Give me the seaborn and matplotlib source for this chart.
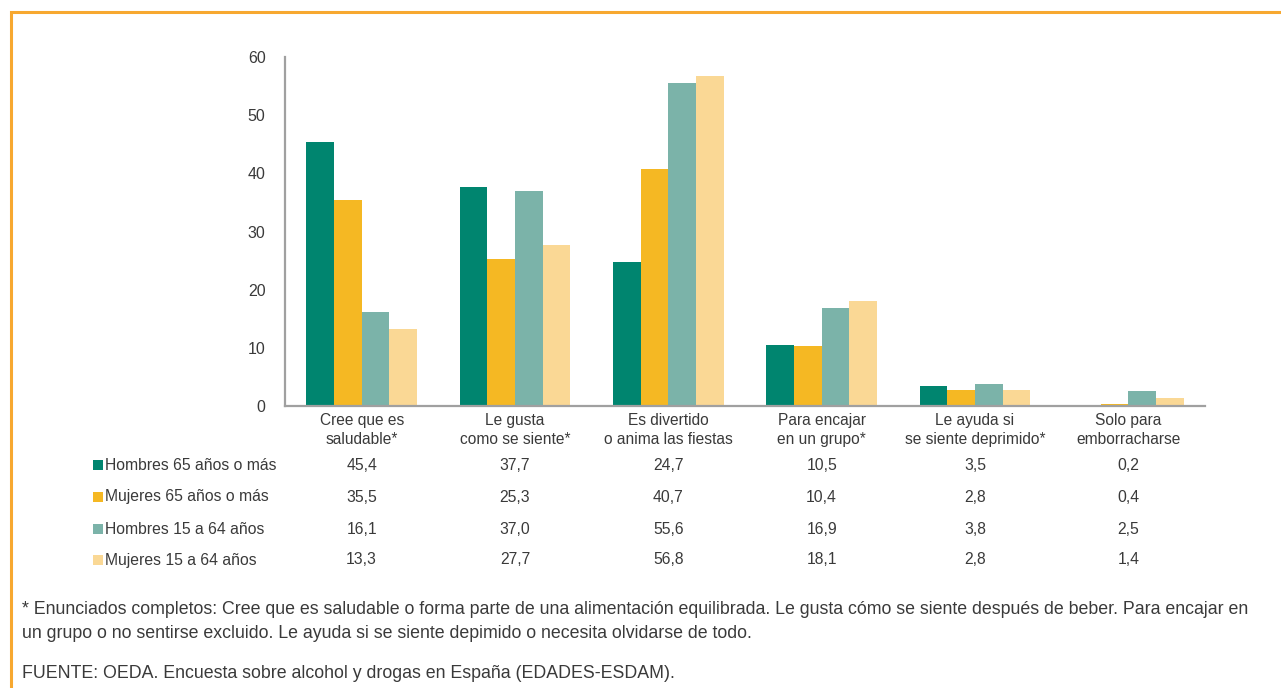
import matplotlib
matplotlib.use("Agg")
import matplotlib.pyplot as plt
from matplotlib.patches import Rectangle
import pandas as pd
import seaborn as sns

# Motivos para consumir alcohol, por sexo y edad (%)
categorias = [
    "Cree que es\nsaludable*",
    "Le gusta\ncomo se siente*",
    "Es divertido\no anima las fiestas",
    "Para encajar\nen un grupo*",
    "Le ayuda si\nse siente deprimido*",
    "Solo para\nemborracharse",
]
series = [
    "Hombres 65 años o más",
    "Mujeres 65 años o más",
    "Hombres 15 a 64 años",
    "Mujeres 15 a 64 años",
]
hombres_65 = [45.4, 37.7, 24.7, 10.5, 3.5, 0.2]
mujeres_65 = [35.5, 25.3, 40.7, 10.4, 2.8, 0.4]
hombres_15_64 = [16.1, 37.0, 55.6, 16.9, 3.8, 2.5]
mujeres_15_64 = [13.3, 27.7, 56.8, 18.1, 2.8, 1.4]
y_ticks = [0, 10, 20, 30, 40, 50, 60]
colores = ["#00856F", "#F5B823", "#7BB3A9", "#FAD895"]

nota_1 = ("* Enunciados completos: Cree que es saludable o forma parte de una alimentación equilibrada. "
          "Le gusta cómo se siente después de beber. Para encajar en")
nota_2 = "un grupo o no sentirse excluido. Le ayuda si se siente depimido o necesita olvidarse de todo."
fuente = "FUENTE: OEDA. Encuesta sobre alcohol y drogas en España (EDADES-ESDAM)."

valores = [hombres_65, mujeres_65, hombres_15_64, mujeres_15_64]
df = pd.DataFrame(
    [(c, s, v) for s, vals in zip(series, valores) for c, v in zip(categorias, vals)],
    columns=["categoria", "serie", "valor"],
)

sns.set_theme(style="white")
plt.rcParams["font.family"] = ["Liberation Sans", "DejaVu Sans"]
txt = "#3a3a3a"

W, H = 1281, 688
fig = plt.figure(figsize=(W / 100, H / 100), dpi=100)
ax = fig.add_axes([285 / W, 1 - 406 / H, 920 / W, 349 / H])

sns.barplot(data=df, x="categoria", y="valor", hue="serie", order=categorias,
            hue_order=series, palette=colores, width=0.72, saturation=1,
            linewidth=0, ax=ax, legend=False)

ax.set_xlim(-0.5, len(categorias) - 0.5)
ax.set_ylim(0, 60)
ax.set_yticks(y_ticks)
ax.set_yticklabels([str(t) for t in y_ticks], fontsize=11.5, color=txt)
ax.set_xticks(range(len(categorias)))
ax.set_xticklabels(categorias, fontsize=11.2, color=txt, linespacing=1.35)
ax.tick_params(axis="both", length=0)
ax.tick_params(axis="y", pad=14)
ax.tick_params(axis="x", pad=5)
ax.set_xlabel("")
ax.set_ylabel("")
for side in ["top", "right"]:
    ax.spines[side].set_visible(False)
for side in ["left", "bottom"]:
    ax.spines[side].set_color("#a0a0a0")
    ax.spines[side].set_linewidth(1.6)

# Tabla de datos bajo el gráfico
filas_y = [465, 497, 529, 560]
for s, vals, col, yp in zip(series, valores, colores, filas_y):
    yf = 1 - yp / H
    fig.patches.append(Rectangle((93 / W, yf - 5 / H), 10 / W, 10 / H,
                                 transform=fig.transFigure, color=col, lw=0))
    fig.text(105 / W, yf, s, fontsize=11.3, color=txt, va="center", ha="left")
    for i, v in enumerate(vals):
        xd = fig.transFigure.inverted().transform(ax.transData.transform((i, 0)))[0]
        fig.text(xd, yf, f"{v:.1f}".replace(".", ","), fontsize=11.3, color=txt,
                 va="center", ha="center")

for texto, yp in [(nota_1, 610), (nota_2, 634), (fuente, 673)]:
    fig.text(22 / W, 1 - yp / H, texto, fontsize=12.8, color=txt,
             va="center", ha="left")

# Marco naranja
fig.patches.append(Rectangle((11 / W, -0.05), 1.2, (1 - 12 / H) + 0.05,
                             transform=fig.transFigure, fill=False,
                             edgecolor="#F7A830", lw=2.2))

fig.savefig("out.png", dpi=100)
